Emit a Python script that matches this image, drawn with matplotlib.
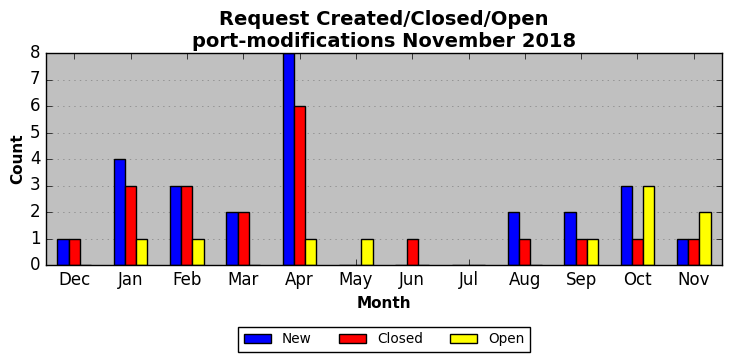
import numpy as np
import matplotlib
matplotlib.use('Agg')
import matplotlib.pyplot as plt

plt.style.use('classic')

months = ['Dec', 'Jan', 'Feb', 'Mar', 'Apr', 'May', 'Jun', 'Jul', 'Aug', 'Sep', 'Oct', 'Nov']
new = [1, 4, 3, 2, 8, 0, 0, 0, 2, 2, 3, 1]
closed = [1, 3, 3, 2, 6, 0, 1, 0, 1, 1, 1, 1]
opened = [0, 1, 1, 0, 1, 1, 0, 0, 0, 1, 3, 2]

x = np.arange(len(months))
w = 0.2

fig = plt.figure(figsize=(7.32, 3.61), dpi=100)
ax = fig.add_axes([46/732, 1 - 265/361, (722-46)/732, (265-53)/361])
ax.set_facecolor('#c0c0c0')
ax.bar(x - w, new, w, color='blue', label='New', align='center')
ax.bar(x, closed, w, color='red', label='Closed', align='center')
ax.bar(x + w, opened, w, color='yellow', label='Open', align='center')

ax.set_xticks(x)
ax.set_xticklabels(months)
ax.set_xlim(-0.5, 11.5)
ax.set_ylim(0, 8)
ax.yaxis.grid(True, linestyle=':', color='gray')
ax.set_axisbelow(True)
ax.set_xlabel('Month', fontweight='bold', fontsize=11)
ax.set_ylabel('Count', fontweight='bold', fontsize=11, labelpad=3)
ax.set_title('Request Created/Closed/Open\nport-modifications November 2018', fontweight='bold', fontsize=14, pad=4)
ax.legend(loc='upper center', bbox_to_anchor=(0.5, -0.26), ncol=3, fontsize=9.8)

fig.savefig('out.png', dpi=100)
